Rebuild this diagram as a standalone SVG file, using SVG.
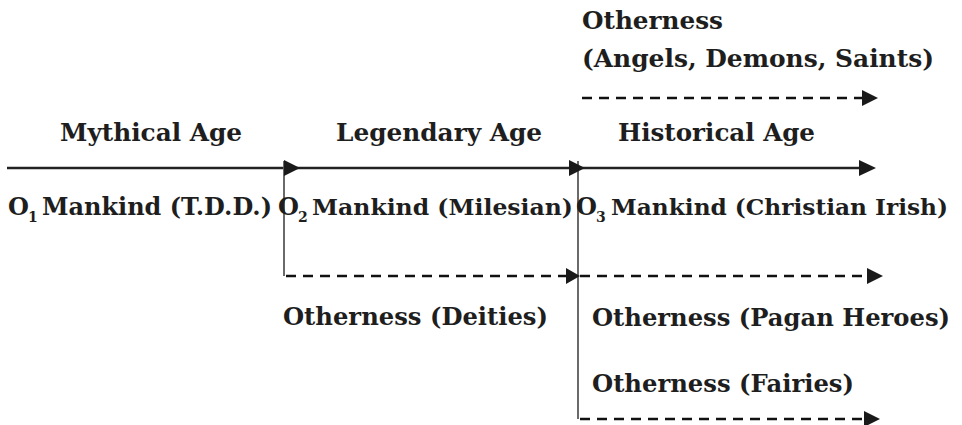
<svg xmlns="http://www.w3.org/2000/svg" width="962" height="425" viewBox="0 0 962 425">
<style>
text{font-family:"DejaVu Serif","Liberation Serif",serif;font-weight:bold;font-size:24px;fill:#1e1e1e}
.sub{font-size:14px}
.solid{stroke:#222;stroke-width:2.7;fill:none}
.dash{stroke:#111;stroke-width:2.5;stroke-dasharray:10 7;fill:none}
.vert{stroke:#5a5a5a;stroke-width:1.8;fill:none}
.head{fill:#1a1a1a}
</style>
<rect width="962" height="425" fill="#fff"/>
<g id="connectors">
<line class="solid" x1="7" y1="168" x2="864" y2="168"/>
<line class="vert" x1="284" y1="161" x2="284" y2="276"/>
<line class="vert" x1="578" y1="161" x2="578" y2="419"/>
<line class="dash" x1="286" y1="276" x2="566" y2="276"/>
<line class="dash" x1="580" y1="276" x2="868" y2="276"/>
<line class="dash" x1="582" y1="98" x2="862" y2="98"/>
<line class="dash" x1="580" y1="419" x2="864" y2="419"/>
<path class="head" d="M284,160 L300,168 L284,176 Z"/>
<path class="head" d="M569,160 L585,168 L569,176 Z"/>
<path class="head" d="M859,160 L876,168 L859,176 Z"/>
<path class="head" d="M566,268 L580,276 L566,284 Z"/>
<path class="head" d="M867,268 L883,276 L867,284 Z"/>
<path class="head" d="M862,90 L878,98 L862,106 Z"/>
<path class="head" d="M864,411 L880,419 L864,427 Z"/>
</g>
<g id="ages">
<text x="60" y="141" textLength="182" lengthAdjust="spacingAndGlyphs">Mythical Age</text>
<text x="336" y="141" textLength="206" lengthAdjust="spacingAndGlyphs">Legendary Age</text>
<text x="618" y="141" textLength="197" lengthAdjust="spacingAndGlyphs">Historical Age</text>
</g>
<g id="mankind1">
<text x="8" y="215">O</text><text class="sub" x="28" y="222">1</text>
<text x="42" y="215" textLength="230" lengthAdjust="spacingAndGlyphs">Mankind (T.D.D.)</text>
</g>
<g id="mankind2">
<text x="278" y="215">O</text><text class="sub" x="298" y="222">2</text>
<text x="312" y="215" style="font-size:23px" textLength="261" lengthAdjust="spacingAndGlyphs">Mankind (Milesian)</text>
</g>
<g id="mankind3">
<text x="576" y="215">O</text><text class="sub" x="596" y="222">3</text>
<text x="611" y="215" style="font-size:22.5px" textLength="337" lengthAdjust="spacingAndGlyphs">Mankind (Christian Irish)</text>
</g>
<g id="otherness-saints">
<text x="582" y="29" textLength="141" lengthAdjust="spacingAndGlyphs">Otherness</text>
<text x="582" y="67" textLength="352" lengthAdjust="spacingAndGlyphs">(Angels, Demons, Saints)</text>
</g>
<g id="otherness-deities"><text x="283" y="325" textLength="265" lengthAdjust="spacingAndGlyphs">Otherness (Deities)</text></g>
<g id="otherness-heroes"><text x="592" y="326" textLength="358" lengthAdjust="spacingAndGlyphs">Otherness (Pagan Heroes)</text></g>
<g id="otherness-fairies"><text x="592" y="392" textLength="262" lengthAdjust="spacingAndGlyphs">Otherness (Fairies)</text></g>
</svg>
